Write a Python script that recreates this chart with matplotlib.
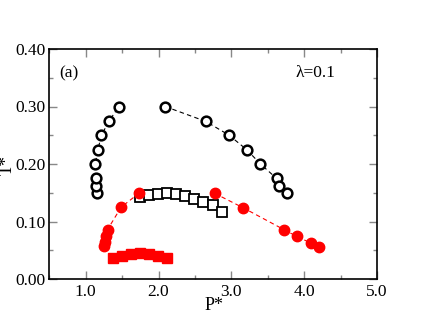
import matplotlib
matplotlib.use('Agg')
import matplotlib.pyplot as plt
from matplotlib.ticker import MultipleLocator

plt.rcParams['font.family'] = ['Liberation Serif', 'DejaVu Serif']

# open circles, left and right branches
circ_left_P = [1.15, 1.146, 1.146, 1.13, 1.168, 1.215, 1.318, 1.455]
circ_left_T = [0.149, 0.162, 0.175, 0.200, 0.225, 0.250, 0.274, 0.300]
circ_right_P = [2.09, 2.65, 2.97, 3.21, 3.40, 3.62, 3.66, 3.77]
circ_right_T = [0.300, 0.274, 0.250, 0.225, 0.200, 0.175, 0.162, 0.149]

# open squares
sq_P = [1.746, 1.873, 1.996, 2.119, 2.245, 2.364, 2.49, 2.61, 2.746, 2.865]
sq_T = [0.142, 0.146, 0.148, 0.149, 0.148, 0.144, 0.139, 0.134, 0.129, 0.117]

# red filled circles
red_left_P = [1.25, 1.26, 1.28, 1.30, 1.487, 1.73]
red_left_T = [0.057, 0.065, 0.074, 0.086, 0.125, 0.149]
red_right_P = [2.77, 3.16, 3.72, 3.90, 4.10, 4.20]
red_right_T = [0.149, 0.124, 0.086, 0.074, 0.062, 0.056]

# red filled squares
rsq_P = [1.373, 1.496, 1.62, 1.746, 1.873, 1.996, 2.119]
rsq_T = [0.036, 0.0405, 0.0435, 0.0447, 0.0435, 0.040, 0.036]

fig = plt.figure(figsize=(4.25, 3.29), dpi=100)
ax = fig.add_axes([49.3 / 425, 50 / 329, (377 - 49.3) / 425, (279 - 49) / 329])

red = '#ff0000'
ax.plot(circ_left_P, circ_left_T, 'k--', lw=0.8, dashes=(4, 3))
ax.plot(circ_right_P, circ_right_T, 'k--', lw=0.8, dashes=(4, 3))
ax.plot(circ_left_P, circ_left_T, 'o', ms=7, mfc='white', mec='black', mew=1.8, ls='none')
ax.plot(circ_right_P, circ_right_T, 'o', ms=7, mfc='white', mec='black', mew=1.8, ls='none')
ax.plot(sq_P, sq_T, 's', ms=7, mfc='white', mec='black', mew=1.3, ls='none')

ax.plot(red_left_P, red_left_T, '--', color=red, lw=0.8, dashes=(4, 3))
ax.plot(red_right_P, red_right_T, '--', color=red, lw=0.8, dashes=(4, 3))
ax.plot(red_left_P, red_left_T, 'o', ms=7.5, color=red, ls='none')
ax.plot(red_right_P, red_right_T, 'o', ms=7.5, color=red, ls='none')
ax.plot(rsq_P, rsq_T, 's', ms=7, color=red, ls='none')

ax.set_xlim(0.5, 5.0)
ax.set_ylim(0.0, 0.4)
ax.xaxis.set_minor_locator(MultipleLocator(0.5))
ax.yaxis.set_minor_locator(MultipleLocator(0.05))
ax.set_xticks([1.0, 2.0, 3.0, 4.0, 5.0])
ax.set_xticklabels(['1.0', '2.0', '3.0', '4.0', '5.0'])
ax.set_yticks([0.0, 0.1, 0.2, 0.3, 0.4])
ax.set_yticklabels(['0.00', '0.10', '0.20', '0.30', '0.40'])
ax.tick_params(which='both', direction='in', top=True, right=True, labelsize=12.5,
               color='#888888')
ax.tick_params(axis='y', pad=3)
ax.tick_params(which='major', length=6, width=1)
ax.tick_params(which='minor', length=3, width=1)
for s in ax.spines.values():
    s.set_linewidth(1.2)

ax.set_xlabel('P*', fontsize=13)
ax.xaxis.set_label_coords(0.503, -0.117)
ax.xaxis.label.set_va('center')
ax.set_ylabel('T*', fontsize=13)
ax.yaxis.set_label_coords(-0.128, 0.496)
ax.yaxis.label.set_va('center')

ax.text(0.03, 0.93, '(a)', transform=ax.transAxes, fontsize=12.5, va='top')
ax.text(0.75, 0.93, 'λ=0.1', transform=ax.transAxes, fontsize=12.5, va='top')

fig.savefig('out.png', dpi=100)
